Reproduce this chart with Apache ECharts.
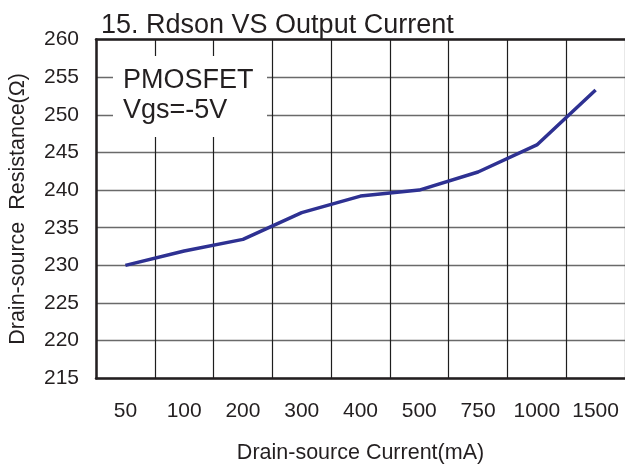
<!DOCTYPE html>
<html>
<head>
<meta charset="utf-8">
<script src="https://cdn.jsdelivr.net/npm/echarts@6/dist/echarts.min.js"></script>
<style>
html,body{margin:0;padding:0;background:#fff;}
#c{width:625px;height:466px;}
</style>
</head>
<body>
<div id="c"></div>
<script>
var categories = ['50','100','200','300','400','500','750','1000','1500'];
var rdson = [230.0, 231.9, 233.45, 237.0, 239.2, 240.0, 242.4, 246.0, 253.3];
var yMin = 215, yMax = 260, yStep = 5;

var font = 'Liberation Sans';
var ink = '#231f20';
var chart = echarts.init(document.getElementById('c'), null, {renderer:'canvas'});
chart.setOption({
  animation: false,
  backgroundColor: '#fff',
  title: {
    text: '15. Rdson VS Output Current',
    left: 96, top: 7,
    textStyle: {fontFamily: font, fontSize: 27, fontWeight: 'normal', color: ink}
  },
  grid: {left: 96, right: 0, top: 39.5, bottom: 87.7, containLabel: false, outerBoundsMode: 'none'},
  xAxis: [{
    type: 'category',
    data: categories,
    boundaryGap: true,
    name: 'Drain-source Current(mA)',
    nameLocation: 'middle',
    nameGap: 64,
    nameTextStyle: {fontFamily: font, fontSize: 21.5, color: ink},
    axisLine: {show: true, lineStyle: {color: ink, width: 2.5}},
    axisTick: {show: false},
    axisLabel: {fontFamily: font, fontSize: 21, color: ink, margin: 22, interval: 0},
    splitLine: {show: true, interval: 0, lineStyle: {color: '#1e1e1e', width: 1.2}}
  }, {
    type: 'category',
    data: categories,
    position: 'top',
    axisLine: {show: true, lineStyle: {color: ink, width: 2.5}},
    axisTick: {show: false},
    axisLabel: {show: false},
    splitLine: {show: false}
  }],
  yAxis: {
    type: 'value',
    min: yMin, max: yMax, interval: yStep,
    name: 'Drain-source  Resistance(\u03a9)',
    nameLocation: 'middle',
    nameGap: 67,
    nameTextStyle: {fontFamily: font, fontSize: 21.5, color: ink},
    axisLine: {show: true, lineStyle: {color: ink, width: 2.5}},
    axisTick: {show: false},
    axisLabel: {fontFamily: font, fontSize: 21, color: ink, margin: 17},
    splitLine: {show: true, lineStyle: {color: '#6a6a6a', width: 1.3}}
  },
  graphic: [{
    type: 'group',
    left: 113, top: 56,
    z: 100,
    children: [{
      type: 'rect',
      z: 100,
      shape: {x: 0, y: 0, width: 154, height: 81},
      style: {fill: '#fff'}
    }, {
      type: 'text',
      z: 101,
      x: 10, y: 11,
      style: {text: 'PMOSFET', font: '27px "Liberation Sans"', fill: ink}
    }, {
      type: 'text',
      z: 101,
      x: 10, y: 41,
      style: {text: 'Vgs=-5V', font: '27px "Liberation Sans"', fill: ink}
    }]
  }],
  series: [{
    type: 'line',
    data: rdson,
    smooth: false,
    symbol: 'none',
    z: 5,
    lineStyle: {color: '#2e3192', width: 3.5}
  }]
});
</script>
</body>
</html>
